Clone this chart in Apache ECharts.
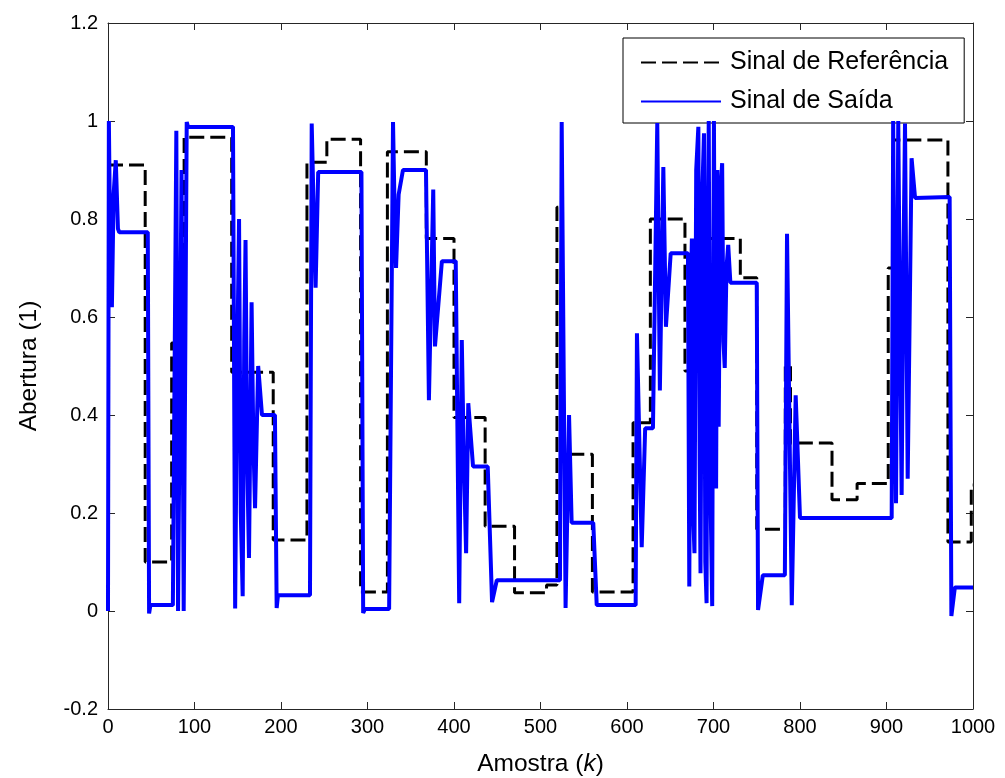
<!DOCTYPE html>
<html>
<head>
<meta charset="utf-8">
<script src="https://cdn.jsdelivr.net/npm/echarts@6/dist/echarts.min.js"></script>
<style>
  html, body { margin: 0; padding: 0; background: #fff; }
  #main { width: 1005px; height: 778px; }
</style>
</head>
<body>
<div id="main"></div>
<script>
// sinal de referencia: inicio de cada degrau e valor
var refX = [0, 43, 73.6, 88, 143, 191, 230, 253, 292, 323, 368, 400, 436, 470, 507, 519, 525, 560, 607, 627, 667, 684, 731, 750, 783, 789, 837, 866, 902, 908, 971, 998];
var refY = [0.91, 0.10, 0.547, 0.967, 0.487, 0.145, 0.916, 0.963, 0.039, 0.937, 0.76, 0.395, 0.173, 0.037, 0.053, 0.824, 0.32, 0.039, 0.384, 0.80, 0.49, 0.76, 0.68, 0.167, 0.50, 0.343, 0.227, 0.26, 0.70, 0.961, 0.141, 0.257];
var refEnd = 1000;

// sinal de saida
var outX = [0, 1, 2.5, 4.5, 6.5, 9, 11.5, 13, 46, 47.5, 49, 75, 79, 81, 85, 87.5, 91, 92.5, 144.5,
    147, 149, 151.5, 153.5, 155.7, 157.5, 159, 161, 163, 166, 168, 170, 173.6, 178, 193, 195, 196.5,
    233.5, 235.5, 238, 240, 243, 293, 295, 297, 325, 329.5, 331, 333, 336, 341, 367.6, 371, 376, 378, 386, 402,
    406, 409, 411.5, 414, 416.5, 422, 439, 444, 449.5, 522.5, 524.5, 529, 533, 536, 561, 565, 610,
    611.5, 617, 621, 630, 635, 638, 642, 645, 650.5, 670.5,
    672, 673.5, 675, 676.5, 678, 680, 682.5, 684, 685, 687, 689, 690.5, 692, 693, 694.5, 696, 698.5, 699.5,
    700.5, 702, 703, 704.5, 706, 708, 710, 711.5, 713, 715, 717, 719.5, 750,
    751.5, 757, 782.5, 785, 790.5, 795, 800, 906,
    907.7, 909.5, 911, 913.6, 915.5, 917.5, 919.5, 921.4, 924.5, 929, 933, 973, 975, 979, 1000];
var outY = [0, 1.0, 0.75, 0.62, 0.85, 0.92, 0.78, 0.773, 0.773, -0.005, 0.012, 0.012, 0.98, 0.0, 0.90, 0.0, 0.998, 0.988, 0.988,
    0.005, 0.45, 0.80, 0.2, 0.03, 0.55, 0.757, 0.3, 0.108, 0.63, 0.35, 0.21, 0.50, 0.40, 0.40, 0.006, 0.032,
    0.032, 0.995, 0.8, 0.66, 0.896, 0.896, -0.004, 0.004, 0.004, 0.998, 0.85, 0.70, 0.85, 0.90, 0.90, 0.43, 0.86, 0.54, 0.714, 0.714,
    0.016, 0.553, 0.3, 0.118, 0.424, 0.295, 0.295, 0.018, 0.063, 0.063, 0.998, 0.006, 0.40, 0.18, 0.18, 0.012, 0.012,
    0.567, 0.13, 0.373, 0.373, 0.996, 0.45, 0.906, 0.58, 0.73, 0.73,
    0.05, 0.62, 0.76, 0.2, 0.118, 0.9, 0.988, 0.3, 0.077, 0.85, 0.975, 0.1, 0.016, 0.7, 1.0, 0.3, 0.01, 0.6,
    1.0, 0.4, 0.25, 0.9, 0.376, 0.85, 0.914, 0.55, 0.496, 0.7, 0.747, 0.67, 0.67,
    0.002, 0.073, 0.073, 0.77, 0.012, 0.44, 0.19, 0.19,
    1.0, 0.5, 0.22, 1.0, 0.6, 0.237, 0.7, 0.995, 0.27, 0.924, 0.843, 0.845, -0.01, 0.048, 0.048];

var xTicks = [0, 1000, 100];
var yTicks = [-0.2, 1.2, 0.2];

var fonte = 'Liberation Sans, Arial, sans-serif';

var refData = [];
for (var i = 0; i < refX.length; i++) {
    var fim = i + 1 < refX.length ? refX[i + 1] : refEnd;
    refData.push([refX[i], refY[i]]);
    refData.push([fim, refY[i]]);
}
var outData = outX.map(function (x, i) { return [x, outY[i]]; });

var chart = echarts.init(document.getElementById('main'));

var eixoX = {
    type: 'value',
    min: xTicks[0], max: xTicks[1], interval: xTicks[2],
    splitLine: { show: false },
    axisLine: { onZero: false, lineStyle: { color: '#262626', width: 1 } },
    axisTick: { inside: true, length: 7, lineStyle: { color: '#262626' } }
};
var eixoY = {
    type: 'value',
    min: yTicks[0], max: yTicks[1], interval: yTicks[2],
    splitLine: { show: false },
    axisLine: { show: true, onZero: false, lineStyle: { color: '#262626', width: 1 } },
    axisTick: { show: true, inside: true, length: 7, lineStyle: { color: '#262626' } }
};

option = {
    backgroundColor: '#fff',
    animation: false,
    grid: { left: 108, right: 32, top: 23, bottom: 69, outerBoundsMode: 'none' },
    legend: {
        orient: 'vertical',
        left: 623, top: 38,
        itemWidth: 80, itemHeight: 14, itemGap: 14,
        padding: [12, 16, 9, 17],
        backgroundColor: '#fff',
        borderColor: '#000', borderWidth: 1, borderRadius: 0,
        itemStyle: { opacity: 0 },
        textStyle: { fontFamily: fonte, fontSize: 25, color: '#000', padding: [0, 0, 0, 4] },
        data: ['Sinal de Referência', 'Sinal de Saída']
    },
    xAxis: [
        Object.assign({}, eixoX, {
            position: 'bottom',
            name: 'Amostra ({i|k})',
            nameLocation: 'middle',
            nameGap: 43,
            nameTextStyle: {
                fontFamily: fonte, fontSize: 24.5, color: '#000',
                rich: { i: { fontFamily: fonte, fontSize: 24.5, fontStyle: 'italic', color: '#000' } }
            },
            axisLabel: {
                margin: 8, fontFamily: fonte, fontSize: 20, color: '#000',
                formatter: function (v) { return String(v); }
            }
        }),
        Object.assign({}, eixoX, { position: 'top', axisLabel: { show: false } })
    ],
    yAxis: [
        Object.assign({}, eixoY, {
            position: 'left',
            name: 'Abertura (1)',
            nameLocation: 'middle',
            nameGap: 66,
            nameTextStyle: { fontFamily: fonte, fontSize: 24.5, color: '#000' },
            axisLabel: {
                margin: 10, fontFamily: fonte, fontSize: 20, color: '#000',
                formatter: function (v) { return String(+v.toFixed(1)); }
            }
        }),
        Object.assign({}, eixoY, { position: 'right', axisLabel: { show: false } })
    ],
    series: [
        {
            name: 'Sinal de Referência',
            type: 'line',
            data: refData,
            symbol: 'none',
            z: 3,
            lineStyle: { color: '#000', width: 3, type: [15, 6] },
            itemStyle: { color: '#000' }
        },
        {
            name: 'Sinal de Saída',
            type: 'line',
            data: outData,
            symbol: 'none',
            z: 4,
            lineStyle: { color: '#0000ff', width: 4 },
            itemStyle: { color: '#0000ff' }
        }
    ]
};

chart.setOption(option);
</script>
</body>
</html>
